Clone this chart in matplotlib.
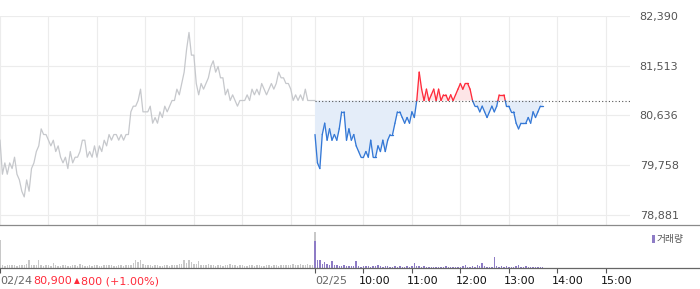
import numpy as np
import matplotlib
matplotlib.use("Agg")
import matplotlib.pyplot as plt
from matplotlib.collections import LineCollection
from matplotlib import transforms

plt.rcParams['font.family'] = ['DejaVu Sans', 'Noto Sans CJK KR']

# ---------------- data ----------------
ref_price = 80900
y_ticks = [78881, 79758, 80636, 81513, 82390]

# previous day (02/24), one value every 3 minutes from 09:00 to 15:30
prev_price = [
    80200, 79600, 79800, 79600, 79800, 79700, 79900, 79600, 79500, 79300,
    79200, 79500, 79300, 79700, 79800, 80000, 80100, 80400, 80300, 80300,
    80200, 80100, 80200, 80000, 80100, 79900, 79800, 79900, 79700, 80000,
    79800, 79900, 79900, 80000, 80200, 80200, 79900, 80000, 79900, 80100,
    79900, 80100, 80000, 80200, 80100, 80300, 80200, 80300, 80300, 80200,
    80300, 80200, 80300, 80300, 80700, 80800, 80800, 80900, 81100, 80700,
    80700, 80700, 80800, 80500, 80600, 80500, 80700, 80600, 80800, 80700,
    80800, 80900, 80900, 81100, 81000, 81200, 81400, 81800, 82100, 81700,
    81700, 81200, 81000, 81200, 81100, 81200, 81300, 81500, 81600, 81400,
    81500, 81300, 81300, 81000, 81100, 80900, 81000, 80900, 80800, 80900,
    80900, 80900, 81000, 80900, 81100, 81000, 81100, 81000, 81200, 81100,
    81000, 81100, 81200, 81100, 81200, 81400, 81300, 81300, 81200, 81200,
    81100, 80900, 81000, 80900, 81000, 80900, 81100, 80900, 80900, 80900,
    80900,
]

# today (02/25), one value every 3 minutes from 09:00
today_price = [
    80300, 79800, 79700, 80300, 80500, 80200, 80400, 80200, 80300, 80200,
    80400, 80700, 80700, 80200, 80400, 80200, 80300, 80100, 80000, 79900,
    79900, 80000, 79900, 80200, 79900, 79900, 80100, 80000, 80200, 80000,
    80200, 80300, 80300, 80500, 80700, 80700, 80600, 80500, 80600, 80500,
    80700, 80600, 80900, 81400, 81100, 80900, 81100, 80900, 81000, 81100,
    80900, 81100, 80900, 81000, 81000, 80900, 81000, 80900, 81000, 81100,
    81200, 81100, 81200, 81200, 81100, 80900, 80800, 80800, 80700, 80800,
    80700, 80600, 80700, 80800, 80700, 80800, 81000, 81000, 81000, 80800,
    80800, 80700, 80700, 80500, 80400, 80500, 80500, 80500, 80600, 80500,
    80700, 80600, 80700, 80800, 80800,
]

# volume (thousand shares), every 3 minutes
prev_volume = [
    277, 30, 25, 35, 30, 28, 32, 25, 30, 28,
    35, 40, 77, 30, 28, 35, 77, 30, 25, 28,
    30, 25, 53, 30, 25, 22, 28, 30, 22, 25,
    28, 30, 25, 43, 28, 25, 22, 30, 25, 28,
    30, 25, 22, 28, 30, 35, 28, 25, 22, 30,
    28, 25, 30, 28, 35, 55, 77, 60, 77, 40,
    35, 30, 28, 25, 30, 28, 25, 22, 28, 30,
    25, 28, 30, 35, 40, 45, 77, 55, 77, 60,
    45, 40, 67, 35, 30, 28, 43, 30, 28, 25,
    30, 28, 25, 30, 35, 43, 30, 28, 25, 30,
    28, 25, 22, 28, 30, 25, 28, 30, 25, 22,
    28, 30, 25, 28, 30, 25, 28, 30, 35, 30,
    28, 40, 35, 30, 40, 35, 30, 40, 35, 30,
    360,
]
today_volume = [
    270, 77, 83, 40, 60, 43, 35, 70, 27, 30,
    20, 25, 30, 20, 25, 20, 22, 67, 20, 15,
    18, 20, 25, 15, 20, 18, 33, 20, 15, 18,
    20, 15, 12, 18, 15, 20, 12, 15, 18, 12,
    20, 50, 25, 20, 15, 18, 12, 15, 10, 12,
    15, 10, 12, 15, 20, 10, 12, 15, 10, 12,
    15, 20, 27, 15, 12, 20, 15, 33, 20, 53,
    20, 15, 12, 15, 107, 20, 15, 18, 12, 20,
    15, 12, 15, 20, 33, 15, 12, 20, 15, 10,
    12, 13, 10, 12, 10,
]

day_len = 390          # minutes per session 09:00-15:30
step = 3
hour_labels = ['10:00', '11:00', '12:00', '13:00', '14:00', '15:00']

# ---------------- colours ----------------
c_prev = '#c6c8cc'
c_blue = '#3478d6'
c_red = '#ff2b3b'
c_fill_blue = '#e4edf9'
c_fill_red = '#fde5e7'
c_grid = '#ececec'
c_vol_prev = '#c8c8c8'
c_vol_today = '#8e7cc6'

W, H = 700, 289
fig = plt.figure(figsize=(W / 100, H / 100), dpi=100)

def fx(px):
    return px / W

def fy(py):
    return 1 - py / H

# price axes: x 0..630 px, y 16..225 px
ax = fig.add_axes([0, fy(225), fx(630), (225 - 16) / H])
# volume axes: full width, y 225..268 px
axv = fig.add_axes([0, fy(268), 1, (268 - 225) / H])

t_prev = np.arange(len(prev_price)) * step
t_today = day_len + np.arange(len(today_price)) * step
x_end = 2 * day_len

# grid
for yv in y_ticks:
    ax.axhline(yv, color=c_grid, lw=0.8, zorder=0)
vgrid = list(range(0, day_len, 60)) + list(range(day_len, x_end, 60))
for xv in vgrid:
    ax.axvline(xv, color=c_grid, lw=0.8, zorder=0)

# previous day line
ax.plot(t_prev, prev_price, color=c_prev, lw=0.9, zorder=3)

# today: split at reference crossings
tt = np.asarray(t_today, float)
yy = np.asarray(today_price, float)
ts, ys = [tt[0]], [yy[0]]
for i in range(1, len(tt)):
    y0, y1 = yy[i - 1], yy[i]
    if (y0 - ref_price) * (y1 - ref_price) < 0:
        tc = tt[i - 1] + (ref_price - y0) / (y1 - y0) * (tt[i] - tt[i - 1])
        ts.append(tc)
        ys.append(ref_price)
    ts.append(tt[i])
    ys.append(yy[i])
ts = np.array(ts)
ys = np.array(ys)

ax.fill_between(ts, ys, ref_price, where=ys <= ref_price, color=c_fill_blue, lw=0, zorder=1)
ax.fill_between(ts, ys, ref_price, where=ys >= ref_price, color=c_fill_red, lw=0, zorder=1)

segs, cols = [], []
for i in range(1, len(ts)):
    segs.append([(ts[i - 1], ys[i - 1]), (ts[i], ys[i])])
    mid = (ys[i - 1] + ys[i]) / 2
    cols.append(c_red if mid >= ref_price else c_blue)
lc = LineCollection(segs, colors=cols, linewidths=0.95, zorder=4, joinstyle='round', capstyle='round')
ax.add_collection(lc)

# reference (previous close) dotted line
ax.hlines(ref_price, day_len, x_end, colors='#555555', linestyles=(0, (1, 2)), lw=0.8, zorder=5)

ax.set_xlim(0, x_end)
step_val = y_ticks[1] - y_ticks[0]
ax.set_ylim(y_ticks[0] - step_val * 10 / 49.75, y_ticks[-1])
ax.set_yticks(y_ticks)
ax.set_yticklabels([f"{v:,}" for v in y_ticks])
ax.yaxis.tick_right()
ax.tick_params(axis='y', length=0, pad=7, labelsize=8, labelcolor='#555555')
ax.set_xticks([])
for s in ax.spines.values():
    s.set_visible(False)
ax.patch.set_alpha(0)

# volume
tv_prev = np.arange(len(prev_volume)) * step
axv.bar(tv_prev, prev_volume, width=1.8, color=c_vol_prev, lw=0, align='center')
tv_today = day_len + np.arange(len(today_volume)) * step
axv.bar(tv_today, today_volume, width=1.8, color=c_vol_today, lw=0, align='center')
axv.set_xlim(0, x_end * W / 630)
axv.set_ylim(0, 430)
axv.set_yticks([])
tick_pos = [0, day_len] + [day_len + 60 * (k + 1) for k in range(len(hour_labels))]
axv.set_xticks(tick_pos)
axv.tick_params(axis='x', length=3.3, width=0.8, color='#555555', labelbottom=False)
axv.spines['left'].set_visible(False)
axv.spines['right'].set_visible(False)
axv.spines['top'].set_color('#8a8a8a')
axv.spines['bottom'].set_color('#666666')
axv.spines['top'].set_linewidth(0.9)
axv.spines['bottom'].set_linewidth(0.9)
axv.patch.set_alpha(0)

# bottom labels
trans = transforms.blended_transform_factory(axv.transData, fig.transFigure)
ylab = fy(281)
axv.text(0, ylab, '02/24', transform=trans, ha='left', va='center', fontsize=8, color='#666666')
fig.text(fx(33), ylab, '80,900', ha='left', va='center', fontsize=8, color=c_red)
fig.text(fx(74), ylab, '▲', ha='left', va='center', fontsize=5.5, color=c_red)
fig.text(fx(81), ylab, '800 (+1.00%)', ha='left', va='center', fontsize=8, color=c_red)
axv.text(day_len, ylab, '02/25', transform=trans, ha='left', va='center', fontsize=8, color='#666666')
shift = transforms.ScaledTranslation(-5 / 100, 0, fig.dpi_scale_trans)
for k, lab in enumerate(hour_labels):
    axv.text(day_len + 60 * (k + 1), ylab, lab, transform=trans + shift, ha='left', va='center',
             fontsize=8, color='#111111')

# volume legend
fig.patches.append(plt.Rectangle((fx(652), fy(243)), fx(3), 8 / H, transform=fig.transFigure,
                                 color=c_vol_today, lw=0))
fig.text(fx(657), fy(239), '거래량', ha='left', va='center', fontsize=7,
         color='#555555', family=['Noto Sans CJK KR', 'DejaVu Sans'])

fig.savefig('out.png', dpi=100)
